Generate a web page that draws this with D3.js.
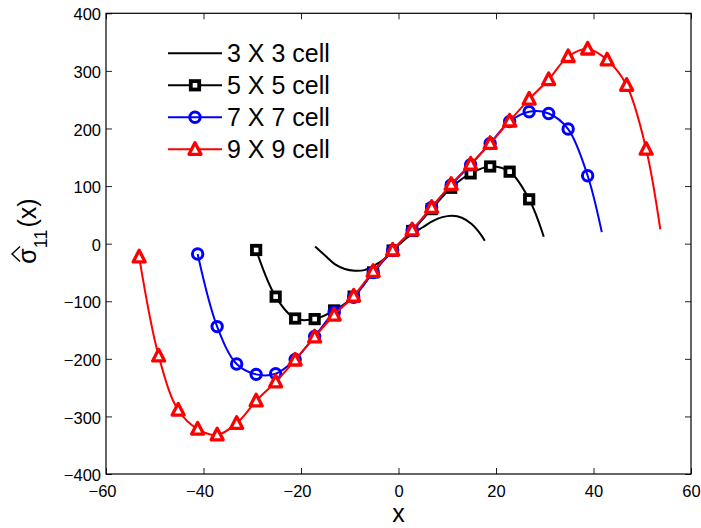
<!DOCTYPE html>
<html><head><meta charset="utf-8">
<script src="https://cdn.jsdelivr.net/npm/d3@7"></script>
<style>
body{margin:0;background:#fff}
svg{display:block;background:#fff}
text{font-family:"Liberation Sans",Arial,Helvetica,sans-serif;fill:#000}
</style>
</head><body>
<svg id="chart" width="701" height="528"></svg>
<script>
// ---------- data ----------
const xTicks = [-60, -40, -20, 0, 20, 40, 60];
const yTicks = [-400, -300, -200, -100, 0, 100, 200, 300, 400];
const legendLabels = ["3 X 3 cell", "5 X 5 cell", "7 X 7 cell", "9 X 9 cell"];

// 3 X 3 cell (line only)
const cell3X = [-17.1, -15, -13, -11, -9, -7, -5, -3, -1, 1, 3, 5, 7, 9, 11, 13, 15, 17, 17.7];
const cell3Y = [-5, -21, -36, -44, -47, -46, -38, -27, -10, 5, 18, 28.5, 39, 46, 48.6, 45, 34, 14.5, 5];

// 5 X 5 cell (markers) + end of line
const cell5X = [-29.2, -25.2, -21.2, -17.2, -13.2, -9.2, -5.2, -1.2, 2.8, 6.8, 10.8, 14.8, 18.8, 22.8, 26.8];
const cell5Y = [-11, -92, -130, -131, -116, -92, -50, -12, 22, 60, 97, 122, 134, 125, 77];
const cell5End = [29.8, 12];

// 7 X 7 cell
const cell7X = [-41.2, -37.2, -33.2, -29.2, -25.2, -21.2, -17.2, -13.2, -9.2, -5.2, -1.2, 2.8, 6.8, 10.8, 14.8, 18.8, 22.8, 26.8, 30.8, 34.8, 38.8];
const cell7Y = [-18, -144, -209, -227, -226, -201, -161, -119, -93, -50, -12, 23, 63, 102, 137, 174, 212, 229, 226, 199, 118];
const cell7End = [41.7, 20];

// 9 X 9 cell
const cell9X = [-53.2, -49.2, -45.2, -41.2, -37.2, -33.2, -29.2, -25.2, -21.2, -17.2, -13.2, -9.2, -5.2, -1.2, 2.8, 6.8, 10.8, 14.8, 18.8, 22.8, 26.8, 30.8, 34.8, 38.8, 42.8, 46.8, 50.8];
const cell9Y = [-23, -195, -289, -322, -332, -312, -273, -240, -202, -162, -124, -91, -48, -11, 24, 63, 103, 138, 174, 213, 251, 285, 325, 338, 319, 275, 164];
const cell9End = [53.7, 25];

// ---------- layout ----------
const svg = d3.select("#chart");
const L = 106, R = 691, T = 13.3, B = 474;
const x = d3.scaleLinear().domain([-60, 60]).range([L, R]);
const y = d3.scaleLinear().domain([-400, 400]).range([B, T]);

const series = [
  {name: legendLabels[0], color: "#000", marker: null,
   pts: cell3X.map((v, i) => [v, cell3Y[i]]), marks: []},
  {name: legendLabels[1], color: "#000", marker: "square",
   pts: cell5X.map((v, i) => [v, cell5Y[i]]).concat([cell5End]),
   marks: cell5X.map((v, i) => [v, cell5Y[i]])},
  {name: legendLabels[2], color: "#0000ff", marker: "circle",
   pts: cell7X.map((v, i) => [v, cell7Y[i]]).concat([cell7End]),
   marks: cell7X.map((v, i) => [v, cell7Y[i]])},
  {name: legendLabels[3], color: "#ff0000", marker: "triangle",
   pts: cell9X.map((v, i) => [v, cell9Y[i]]).concat([cell9End]),
   marks: cell9X.map((v, i) => [v, cell9Y[i]])}
];

const fmt = d => d < 0 ? "\u2212" + Math.abs(d) : String(d);

// axes
const tickCol = "#222";
const gx = svg.append("g").attr("transform", `translate(0,${B})`)
  .call(d3.axisBottom(x).tickValues(xTicks).tickSize(-6).tickPadding(11).tickFormat(fmt));
gx.selectAll("text").style("font-size", "16.5px").attr("dx", d => d < 0 ? -4 : 0);
const gy = svg.append("g").attr("transform", `translate(${L},0)`)
  .call(d3.axisLeft(y).tickValues(yTicks).tickSize(-6).tickPadding(5).tickFormat(fmt));
gy.selectAll("text").style("font-size", "16.5px").attr("dy", "0.4em");
const gt = svg.append("g").attr("transform", `translate(0,${T})`)
  .call(d3.axisTop(x).tickValues(xTicks).tickSize(-6).tickFormat(""));
const gr = svg.append("g").attr("transform", `translate(${R},0)`)
  .call(d3.axisRight(y).tickValues(yTicks).tickSize(-6).tickFormat(""));
[gx, gy, gt, gr].forEach(g => {
  g.select(".domain").remove();
  g.selectAll(".tick line").attr("stroke", tickCol).attr("stroke-width", 1);
});
svg.append("rect").attr("x", L).attr("y", T).attr("width", R - L).attr("height", B - T)
  .attr("fill", "none").attr("stroke", "#000").attr("stroke-width", 1.2);

// marker drawing
function drawMarker(g, type, color, cx, cy) {
  if (type === "square") {
    g.append("rect").attr("x", cx - 4.2).attr("y", cy - 4.2).attr("width", 8.4).attr("height", 8.4)
      .attr("fill", "#fff").attr("stroke", color).attr("stroke-width", 3.8);
  } else if (type === "circle") {
    g.append("circle").attr("cx", cx).attr("cy", cy).attr("r", 5.2)
      .attr("fill", "none").attr("stroke", color).attr("stroke-width", 3);
  } else if (type === "triangle") {
    g.append("path")
      .attr("d", `M${cx},${cy - 6.6}L${cx + 6},${cy + 5}L${cx - 6},${cy + 5}Z`)
      .attr("fill", "#fff").attr("stroke", color).attr("stroke-width", 3.3)
      .attr("stroke-linejoin", "round");
  }
}

const line = d3.line().x(d => x(d[0])).y(d => y(d[1])).curve(d3.curveCatmullRom.alpha(0.5));
const plot = svg.append("g");
series.forEach(s => {
  const g = plot.append("g");
  g.append("path").attr("d", line(s.pts)).attr("fill", "none")
    .attr("stroke", s.color).attr("stroke-width", 2);
  s.marks.forEach(m => drawMarker(g, s.marker, s.color, x(m[0]), y(m[1])));
});

// legend
const lg = svg.append("g");
series.forEach((s, i) => {
  const ry = 53.3 + i * 32;
  lg.append("line").attr("x1", 168).attr("x2", 222).attr("y1", ry).attr("y2", ry)
    .attr("stroke", s.color).attr("stroke-width", 2);
  if (s.marker) drawMarker(lg, s.marker, s.color, 195, ry);
  lg.append("text").attr("x", 227).attr("y", ry + 9).style("font-size", "25px").text(s.name);
});

// axis labels
svg.append("text").attr("x", x(0)).attr("y", 522).attr("text-anchor", "middle")
  .style("font-size", "25px").text("x");

const yl = svg.append("text").attr("transform", "translate(36,231) rotate(-90)")
  .attr("text-anchor", "middle").style("font-size", "25px");
yl.append("tspan").text("\u03c3");
yl.append("tspan").attr("dy", 11).style("font-size", "18px").text("11");
yl.append("tspan").attr("dy", -11).attr("dx", 2).text("(x)");
// circumflex accent over sigma
svg.append("path").attr("d", "M20,246.5L12,254L20,261.5").attr("fill", "none")
  .attr("stroke", "#000").attr("stroke-width", 1.4);
</script>
</body></html>
